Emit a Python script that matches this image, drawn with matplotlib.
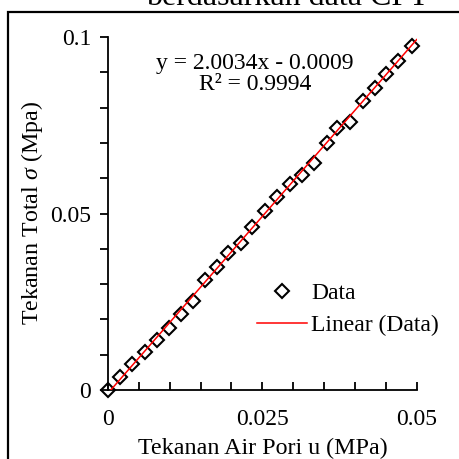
import matplotlib.pyplot as plt
from matplotlib.patches import Rectangle
import numpy as np

plt.rcParams['font.family'] = ['Liberation Serif', 'DejaVu Serif']
plt.rcParams['mathtext.fontset'] = 'custom'
plt.rcParams['mathtext.it'] = 'Liberation Serif:italic'
plt.rcParams['mathtext.rm'] = 'Liberation Serif'

# pore pressure u (MPa) vs total stress sigma (MPa)
u = [0.0, 0.0020, 0.0039, 0.0060, 0.0079, 0.0099, 0.0118, 0.0137, 0.0157,
     0.0176, 0.0195, 0.0216, 0.0233, 0.0254, 0.0274, 0.0295, 0.0314, 0.0334,
     0.0354, 0.0371, 0.0392, 0.0413, 0.0432, 0.0450, 0.0470, 0.0493]
sigma = [0.0, 0.0038, 0.0073, 0.0107, 0.0141, 0.0177, 0.0214, 0.0251, 0.0311,
         0.0348, 0.0388, 0.0416, 0.0463, 0.0506, 0.0546, 0.0584, 0.0610, 0.0643,
         0.0701, 0.0741, 0.0758, 0.0819, 0.0855, 0.0896, 0.0932, 0.0975]

# trendline as printed on the chart
slope = 2.0034
intercept = -0.0009
r2 = 0.9994

fig = plt.figure(figsize=(4.59, 4.59), dpi=100)
ax = fig.add_axes([0.2353, 0.1503, 0.6725, 0.7691])

ax.plot(u, sigma, linestyle='none', marker='D', markersize=7.6,
        markerfacecolor='none', markeredgecolor='black', markeredgewidth=1.5,
        label='Data', clip_on=False, zorder=3)
xt = np.array([0.0, 0.05])
ax.plot(xt, slope * xt + intercept, color='red', linewidth=1.1,
        label='Linear (Data)', zorder=4)

ax.set_xlim(0, 0.05)
ax.set_ylim(0, 0.1)
ax.set_xticks([0, 0.025, 0.05])
ax.set_xticklabels(['0', '0.025', '0.05'])
ax.set_yticks([0, 0.05, 0.1])
ax.set_yticklabels(['0', '0.05', '0.1'])
ax.set_xticks(np.arange(0, 0.0501, 0.005), minor=True)
ax.set_yticks(np.arange(0, 0.1001, 0.01), minor=True)
ax.tick_params(axis='x', which='both', direction='in', length=6, width=1.3,
               labelsize=17, pad=14)
ax.tick_params(axis='y', which='both', direction='out', length=6, width=1.3,
               labelsize=17, pad=6)
ax.spines['top'].set_visible(False)
ax.spines['right'].set_visible(False)
ax.spines['left'].set_linewidth(1.3)
ax.spines['bottom'].set_linewidth(1.3)

ax.set_xlabel('Tekanan Air Pori u (MPa)', fontsize=17.3, labelpad=5)
ax.set_ylabel(r'Tekanan Total $\mathit{\sigma}$ (Mpa)', fontsize=17.3, labelpad=4)

ax.text(0.477, 0.955, 'y = 2.0034x - 0.0009\nR² = %.4f' % r2,
        transform=ax.transAxes, ha='center', va='top', fontsize=17,
        linespacing=1.0)

ax.legend(loc='upper left', bbox_to_anchor=(0.483, 0.305), frameon=False,
          fontsize=17, handlelength=2.1, handletextpad=0.2,
          labelspacing=0.45, borderaxespad=0, borderpad=0)

# outer chart frame, partly cut by the picture edge
fig.patches.append(Rectangle((8 / 459, -0.1), 1.2, 1 - 12.5 / 459 + 0.1,
                             transform=fig.transFigure, fill=False,
                             edgecolor='black', linewidth=1.6))
fig.text(287 / 459, 1 - 5 / 459, 'berdasarkan data CPT', ha='center',
         va='baseline', fontsize=23)

plt.savefig('out.png', dpi=100)
